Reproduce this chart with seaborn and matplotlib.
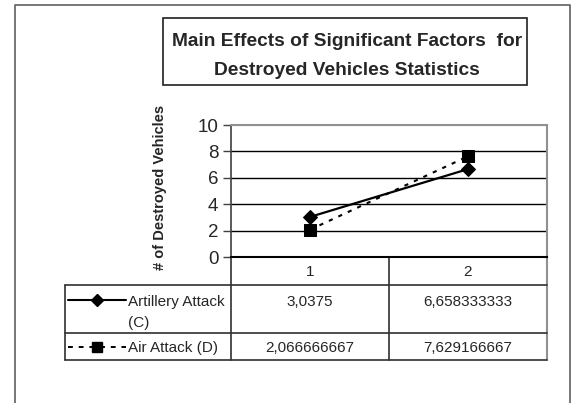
import matplotlib
matplotlib.use("Agg")
import matplotlib.pyplot as plt
from matplotlib.lines import Line2D
from matplotlib.patches import Rectangle
import seaborn as sns

# ---- data ----
categories = [1, 2]
category_labels = ["1", "2"]
artillery = [3.0375, 6.658333333]
air = [2.066666667, 7.629166667]
artillery_text = ["3,0375", "6,658333333"]
air_text = ["2,066666667", "7,629166667"]
series_names = ["Artillery Attack\n(C)", "Air Attack (D)"]
title_lines = ["Main Effects of Significant Factors  for", "Destroyed Vehicles Statistics"]
ylabel = "# of Destroyed Vehicles"
yticks = [0, 2, 4, 6, 8, 10]

sns.set_style("white")
plt.rcParams["font.family"] = ["Liberation Sans", "DejaVu Sans"]

W, H = 574, 403
fig = plt.figure(figsize=(W / 100, H / 100), dpi=100)
fig.patch.set_facecolor("white")

# overlay axes in pixel coordinates for frame, title box and data table
ov = fig.add_axes([0, 0, 1, 1])
ov.set_xlim(0, W)
ov.set_ylim(H, 0)
ov.axis("off")
ov.patch.set_alpha(0)

# outer chart border (bottom is off-image)
ov.add_line(Line2D([14.5, 14.5, 570, 570], [410, 5, 5, 410], color="#606060", lw=1.2))

# title box
ov.add_patch(Rectangle((163, 18), 364, 67, fill=False, ec="#202020", lw=1.2))
ov.text(347, 46, title_lines[0], ha="center", va="baseline", fontsize=13.8, fontweight="bold")
ov.text(347, 75, title_lines[1], ha="center", va="baseline", fontsize=13.8, fontweight="bold")

# main plot axes
px_left, px_right, px_top, px_bottom = 231, 547, 125, 257
ax = fig.add_axes([px_left / W, 1 - px_bottom / H, (px_right - px_left) / W, (px_bottom - px_top) / H])
ax.patch.set_alpha(0)

sns.lineplot(x=categories, y=artillery, color="black", marker="D", markersize=7.5,
             markeredgecolor="black", lw=1.6, ax=ax)
sns.lineplot(x=categories, y=air, color="black", marker="s", markersize=8,
             markeredgecolor="black", lw=1.5, linestyle=(0, (2, 3)), ax=ax)

ax.set_xlim(0.5, 2.5)
ax.set_ylim(0, 10)
ax.set_yticks(yticks)
ax.set_yticklabels([str(v) for v in yticks], fontsize=13.5)
ax.set_xticks([])
for v in yticks[1:-1]:
    ax.axhline(v, color="black", lw=1.0, zorder=0)
ax.axhline(10, color="#909090", lw=1.5, zorder=0)
ax.tick_params(axis="y", direction="out", length=6, width=1, color="#404040", pad=3, left=True)
ax.spines["left"].set_color("#404040")
ax.spines["left"].set_linewidth(1.2)
ax.spines["bottom"].set_color("black")
ax.spines["bottom"].set_linewidth(1.5)
ax.spines["top"].set_color("#909090")
ax.spines["top"].set_linewidth(1.5)
ax.spines["right"].set_color("#909090")
ax.spines["right"].set_linewidth(1.5)
ax.set_ylabel("")
fig.text(160 / W, 1 - 187 / H, ylabel, rotation=90, ha="center", va="center",
         fontsize=10.5, fontweight="bold")

# data table
tc = "#303030"
col_div = 389
ov.add_line(Line2D([px_left, px_left], [257, 360], color=tc, lw=1.2))
ov.add_line(Line2D([col_div, col_div], [257, 360], color=tc, lw=1.2))
ov.add_line(Line2D([px_right, px_right], [257, 360], color="#909090", lw=1.5))
ov.add_line(Line2D([65, 65], [285, 360], color=tc, lw=1.2))
for yy in (285, 333, 360):
    ov.add_line(Line2D([65, px_right], [yy, yy], color=tc, lw=1.2))

fs_tab = 11
col_centers = [(px_left + col_div) / 2, (col_div + px_right) / 2]
for cx, lab in zip(col_centers, category_labels):
    ov.text(cx, 276, lab, ha="center", va="baseline", fontsize=fs_tab)
for cx, t in zip(col_centers, artillery_text):
    ov.text(cx, 306, t, ha="center", va="baseline", fontsize=fs_tab)
for cx, t in zip(col_centers, air_text):
    ov.text(cx, 352, t, ha="center", va="baseline", fontsize=fs_tab)

# legend keys
ov.add_line(Line2D([68, 126], [300, 300], color="black", lw=1.5))
ov.add_line(Line2D([97], [300], color="black", marker="D", markersize=6.5, linestyle="none"))
ov.add_line(Line2D([68, 126], [347, 347], color="black", lw=1.4, linestyle=(0, (2.5, 3))))
ov.add_line(Line2D([97], [347], color="black", marker="s", markersize=7, linestyle="none"))
ov.text(128, 306, "Artillery Attack", ha="left", va="baseline", fontsize=fs_tab)
ov.text(128, 327, "(C)", ha="left", va="baseline", fontsize=fs_tab)
ov.text(128, 352, series_names[1], ha="left", va="baseline", fontsize=fs_tab)

fig.savefig("out.png", dpi=100)
